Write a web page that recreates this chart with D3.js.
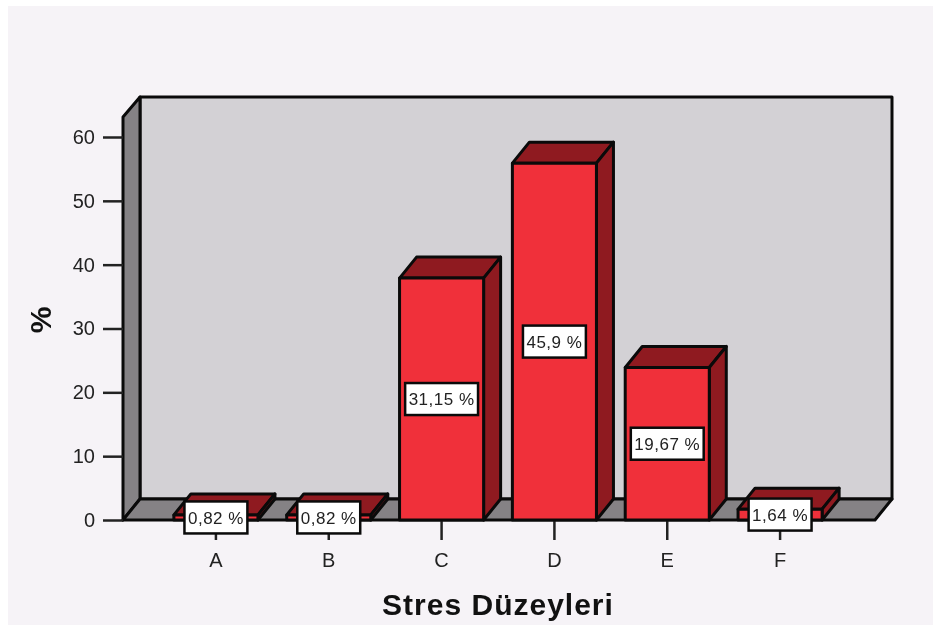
<!DOCTYPE html>
<html>
<head>
<meta charset="utf-8">
<script src="https://cdn.jsdelivr.net/npm/d3@7"></script>
<style>
  html, body { margin: 0; padding: 0; background: #fff; }
  svg { display: block; filter: blur(0.55px); }
  text { font-family: "Liberation Sans", Arial, sans-serif; }
</style>
</head>
<body>
<svg id="canvas" width="933" height="634"></svg>
<script>
var categories = ['A', 'B', 'C', 'D', 'E', 'F'];
// bar heights as drawn on the axis
var bar_values = [0.8, 0.8, 37.9, 55.9, 23.9, 1.7];
// the printed labels differ from the heights, kept as in the picture
var bar_labels = ['0,82 %', '0,82 %', '31,15 %', '45,9 %', '19,67 %', '1,64 %'];
var y_ticks = [0, 10, 20, 30, 40, 50, 60];
var x_title = 'Stres Düzeyleri';
var y_title = '%';

var red = '#f0303a', red_dark = '#8f1a20', wall = '#d3d1d5', wall_side = '#858285', ink = '#0a0a0a';
var depth_x = 17, depth_y = 21;

var svg = d3.select('#canvas');
svg.append('rect').attr('x', 8).attr('y', 6).attr('width', 925).attr('height', 619).attr('fill', '#f6f3f7');

var xScale = d3.scaleBand().domain(categories).range([159.5, 836.5]).paddingInner(0.255).paddingOuter(0.1275);
var yScale = d3.scaleLinear().domain([0, 60]).range([520, 137]);

function poly(points, fill){
  svg.append('polygon')
    .attr('points', points.map(function(p){ return p.join(','); }).join(' '))
    .attr('fill', fill).attr('stroke', ink).attr('stroke-width', 3).attr('stroke-linejoin', 'round');
}

// ************************************************************************************** //
// Box

var y_base = yScale(0), box_left = 123, box_right = 875, box_top = 117;
poly([[box_left+depth_x, box_top-20], [box_right+depth_x, box_top-20], [box_right+depth_x, y_base-depth_y], [box_left+depth_x, y_base-depth_y]], wall);
poly([[box_left, box_top], [box_left+depth_x, box_top-20], [box_left+depth_x, y_base-depth_y], [box_left, y_base]], wall_side);
poly([[box_left, y_base], [box_left+depth_x, y_base-depth_y], [box_right+depth_x, y_base-depth_y], [box_right, y_base]], wall_side);

// ************************************************************************************** //
// Axes

var yAxis = svg.append('g').attr('transform', 'translate(' + box_left + ',0)')
  .call(d3.axisLeft(yScale).tickValues(y_ticks).tickSize(20).tickPadding(8));
var xAxis = svg.append('g').attr('transform', 'translate(0,' + y_base + ')')
  .call(d3.axisBottom(xScale).tickSize(20).tickPadding(13));
[yAxis, xAxis].forEach(function(axis){
  axis.select('.domain').remove();
  axis.selectAll('line').attr('stroke', '#222').attr('stroke-width', 2.5);
  axis.selectAll('text').attr('font-size', 20).attr('fill', '#222')
    .style('font-family', '"Liberation Sans", Arial, sans-serif');
});

// ************************************************************************************** //
// Bars

categories.forEach(function(c, i){
  var x0 = xScale(c), x1 = x0 + xScale.bandwidth(), top = yScale(bar_values[i]);
  poly([[x0, top], [x0+depth_x, top-depth_y], [x1+depth_x, top-depth_y], [x1, top]], red_dark);
  poly([[x1, top], [x1+depth_x, top-depth_y], [x1+depth_x, y_base-depth_y], [x1, y_base]], red_dark);
  poly([[x0, top], [x1, top], [x1, y_base], [x0, y_base]], red);
});

// value labels, drawn after all bars so the boxes sit on top
categories.forEach(function(c, i){
  var cx = xScale(c) + xScale.bandwidth()/2;
  var cy = (yScale(bar_values[i]) + y_base)/2;
  var g = svg.append('g').attr('transform', 'translate(' + cx + ',' + cy + ')');
  var box = g.append('rect').attr('fill', '#fff').attr('stroke', ink).attr('stroke-width', 2.5);
  var label = g.append('text').attr('text-anchor', 'middle').attr('dy', '0.36em')
    .attr('font-size', 17).attr('letter-spacing', 0.5).attr('fill', '#222').text(bar_labels[i]);
  var w = label.node().getComputedTextLength() + 7;
  box.attr('x', -w/2).attr('y', -16).attr('width', w).attr('height', 32);
});

// ************************************************************************************** //
// Titles

svg.append('text').attr('x', 498).attr('y', 615).attr('text-anchor', 'middle')
  .attr('font-size', 30).attr('font-weight', 'bold').attr('letter-spacing', 1).attr('fill', '#111').text(x_title);
svg.append('text').attr('transform', 'translate(51,320) rotate(-90)').attr('text-anchor', 'middle')
  .attr('font-size', 30).attr('font-weight', 'bold').attr('fill', '#111').text(y_title);
</script>
</body>
</html>
